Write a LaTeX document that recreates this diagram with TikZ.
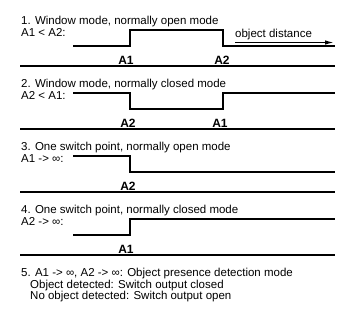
\documentclass[tikz,border=0pt]{standalone}
\usepackage{fontspec}
\setmainfont{Liberation Sans}
\usetikzlibrary{arrows.meta}
\begin{document}
\begin{tikzpicture}[x=1pt,y=-1pt,
  txt/.style={anchor=base west, inner sep=0pt, font=\fontsize{11.5}{13}\selectfont},
  lbl/.style={anchor=base, inner sep=0pt, font=\fontsize{12}{13}\selectfont\bfseries},
  wave/.style={line width=2.2pt},
  sepline/.style={line width=1.4pt},
  arr/.style={line width=1.4pt, -{Latex[length=9pt,width=4.5pt]}}]
\useasboundingbox (0,0) rectangle (353,322);
% Section 1
\node[txt] (t1) at (21,24) {1. Window mode, normally open mode};
\node[txt] (c1) at (21,36.5) {A1 < A2:};
\draw[wave] (73,46) -- (130,46) -- (130,30) -- (223,30) -- (223,46) -- (335,46);
\node[lbl] (l1a) at (126,64) {A1};
\node[lbl] (l1b) at (222,64) {A2};
\coordinate (as) at (235,42.5);
\coordinate (ae) at (334,42.5);
\draw[arr] (as) -- (ae);
\node[txt] (od) at (235,37) {object distance};
\draw[sepline] (20,66) -- (335,66);
% Section 2
\node[txt] (t2) at (21,87) {2. Window mode, normally closed mode};
\node[txt] (c2) at (21,99.5) {A2 < A1:};
\draw[wave] (73,93) -- (130,93) -- (130,109) -- (223,109) -- (223,93) -- (335,93);
\node[lbl] (l2a) at (128,127) {A2};
\node[lbl] (l2b) at (220,127) {A1};
\draw[sepline] (20,129) -- (335,129);
% Section 3
\node[txt] (t3) at (21,150) {3. One switch point, normally open mode};
\node[txt] (c3) at (21,162.5) {A1 -> ∞:};
\draw[wave] (73,156) -- (130,156) -- (130,172) -- (335,172);
\node[lbl] (l3a) at (128,190) {A2};
\draw[sepline] (20,192) -- (335,192);
% Section 4
\node[txt] (t4) at (21,213) {4. One switch point, normally closed mode};
\node[txt] (c4) at (21,225.5) {A2 -> ∞:};
\draw[wave] (73,235) -- (130,235) -- (130,219) -- (335,219);
\node[lbl] (l4a) at (126,253) {A1};
\draw[sepline] (20,255) -- (335,255);
% Section 5
\node[txt] (t5) at (21,276) {5. A1 -> ∞, A2 -> ∞: Object presence detection mode};
\node[txt] (c5a) at (30,288) {Object detected: Switch output closed};
\node[txt] (c5b) at (30,299.5) {No object detected: Switch output open};
\end{tikzpicture}
\end{document}
